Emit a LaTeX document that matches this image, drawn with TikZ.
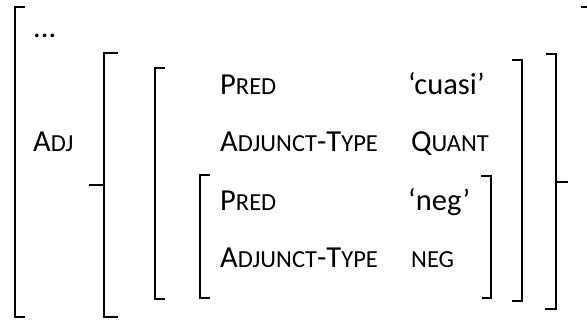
\documentclass[tikz,border=0pt]{standalone}
\usepackage{fontspec}
\setmainfont{Carlito}
\newcommand\smc[1]{{\fontsize{24.5}{24.5}\selectfont #1}}
\begin{document}
\begin{tikzpicture}[x=1pt,y=-1pt,
  br/.style={line width=1.8pt, line cap=butt, line join=miter},
  lbl/.style={anchor=base west, inner sep=0pt, font=\fontsize{30.5}{30.5}\selectfont}]
\useasboundingbox (0,0) rectangle (587,325);
% brackets
\draw[br] (25,7) -- (15,7) -- (15,317) -- (25,317);
\draw[br] (581,7) -- (600,7) -- (600,317) -- (595,317);
\draw[br] (118,53) -- (104,53) -- (104,317) -- (118,317);
\draw[br] (89,185) -- (104,185);
\draw[br] (546,54) -- (556,54) -- (556,309) -- (545,309);
\draw[br] (556,182) -- (568,182);
\draw[br] (165,68) -- (155,68) -- (155,299) -- (165,299);
\draw[br] (512,60) -- (522,60) -- (522,301) -- (512,301);
\draw[br] (210,175) -- (200,175) -- (200,298) -- (210,298);
\draw[br] (481,176) -- (491,176) -- (491,298) -- (482,298);
% texts
\node[lbl] (dots) at (33,37) {...};
\node[lbl] (adj) at (33,151) {A\smc{DJ}};
\node[lbl] (p1) at (220,94) {P\smc{RED}};
\node[lbl] (v1) at (408,94) {‘cuasi’};
\node[lbl] (a1) at (220,151) {A\smc{DJUNCT}-T\smc{YPE}};
\node[lbl] (q1) at (411,151) {Q\smc{UANT}};
\node[lbl] (p2) at (220,210) {P\smc{RED}};
\node[lbl] (v2) at (408,210) {‘neg’};
\node[lbl] (a2) at (220,267) {A\smc{DJUNCT}-T\smc{YPE}};
\node[lbl] (n2) at (411,267) {\smc{NEG}};
\end{tikzpicture}
\end{document}
